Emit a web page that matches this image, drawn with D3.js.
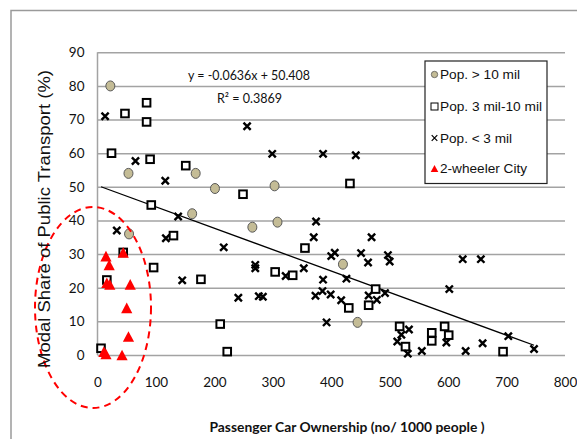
<!DOCTYPE html>
<html>
<head>
<meta charset="utf-8">
<script src="https://cdn.jsdelivr.net/npm/d3@7"></script>
<style>
  body { margin: 0; background: #fff; }
  svg { display: block; }
</style>
</head>
<body>
<svg id="chart" width="577" height="439"></svg>
<script>
// Axis ticks
const xTicks = [0, 100, 200, 300, 400, 500, 600, 700, 800];
const yTicks = [0, 10, 20, 30, 40, 50, 60, 70, 80, 90];

// [car ownership per 1000 people, public transport share %]
const popOver10 = [
  [22, 80], [53, 54], [168, 54], [201, 49.5], [303, 50.3], [162, 42],
  [54, 36], [265, 38], [308, 39.5], [420, 27], [445, 9.7]
];
const pop3to10 = [
  [47, 71.8], [84, 75], [84, 69.3], [24, 60], [90, 58.2], [151, 56.3],
  [249, 47.8], [432, 51], [92, 44.6], [130, 35.5], [44, 30.5], [96, 26],
  [16, 22.3], [177, 22.5], [210, 9.2], [222, 1], [6, 2], [304, 24.7],
  [334, 23.7], [355, 31.8], [430, 14], [464, 14.8], [476, 19.6], [517, 8.5],
  [527, 2.5], [572, 6.6], [572, 4.2], [594, 8.5], [601, 5.9], [694, 1]
];
const popUnder3 = [
  [13, 71], [65, 57.7], [116, 51.8], [256, 68], [299, 59.8], [386, 59.8],
  [442, 59.4], [138, 41.2], [33, 37], [117, 34.7], [216, 32], [270, 26.8],
  [270, 25.8], [145, 22.2], [241, 17], [276, 17.5], [283, 17.3], [374, 39.7],
  [370, 35], [469, 35], [400, 29.4], [406, 30.4], [451, 30.3], [463, 27.5],
  [497, 29.7], [500, 27.8], [353, 25.8], [322, 23.5], [386, 22.4], [426, 22.7],
  [385, 19], [373, 17.6], [399, 18], [417, 16.3], [464, 17.7], [478, 16.4],
  [492, 18.4], [392, 9.7], [533, 7.6], [520, 6], [513, 4], [531, 0.4],
  [555, 1.2], [602, 19.6], [625, 28.5], [656, 28.5], [597, 3.7], [630, 1.2],
  [659, 3.5], [703, 5.6], [747, 1.8]
];
const twoWheeler = [
  [14.5, 29.4], [20, 26.8], [44, 30.5], [16, 21.5], [21, 21], [56, 21],
  [50, 14], [53, 5.5], [11, 1], [14.5, 0.3], [42, 0]
];

// Linear fit
const trendSlope = -0.0636;
const trendIntercept = 50.408;
const trendLabel = "y = -0.0636x + 50.408";
const r2Label = "R\u00b2 = 0.3869";

const legendLabels = ["Pop. > 10 mil", "Pop. 3 mil-10 mil", "Pop. < 3 mil", "2-wheeler City"];
const xTitle = "Passenger Car Ownership (no/ 1000 people )";
const yTitle = "Modal Share of Public Transport (%)";

const svg = d3.select("#chart");
const plot = { left: 97.5, right: 565, top: 52.3, bottom: 355 };

const x = d3.scaleLinear().domain([0, 800]).range([plot.left, plot.right]);
const y = d3.scaleLinear().domain([0, 90]).range([plot.bottom, plot.top]);

// Outer chart frame
svg.append("rect")
  .attr("x", 11).attr("y", 10.5).attr("width", 700).attr("height", 600)
  .attr("fill", "none").attr("stroke", "#9a9a9a").attr("stroke-width", 1.5);

// Horizontal gridlines + y tick labels
const yAxis = svg.append("g")
  .attr("transform", `translate(${plot.left},0)`)
  .call(d3.axisLeft(y).tickValues(yTicks).tickSize(-(plot.right - plot.left)).tickPadding(13));
yAxis.select(".domain").remove();
yAxis.selectAll(".tick line").attr("stroke", "#a3a3a3").attr("stroke-width", 1.5);
yAxis.selectAll(".tick text")
  .attr("font-family", "Lato, 'Open Sans', sans-serif").attr("font-size", 13.5).attr("fill", "#111");

// Vertical axis line
svg.append("line")
  .attr("x1", plot.left).attr("x2", plot.left)
  .attr("y1", plot.top).attr("y2", plot.bottom)
  .attr("stroke", "#a3a3a3").attr("stroke-width", 1.5);

// X tick labels
const xAxis = svg.append("g")
  .attr("transform", `translate(0,${plot.bottom})`)
  .call(d3.axisBottom(x).tickValues(xTicks).tickSize(0).tickPadding(22));
xAxis.select(".domain").remove();
xAxis.selectAll(".tick text")
  .attr("font-family", "Lato, 'Open Sans', sans-serif").attr("font-size", 13.5).attr("fill", "#111");

// Trend line across the data range
const allX = [...popOver10, ...pop3to10, ...popUnder3, ...twoWheeler].map(d => d[0]);
const [xMin, xMax] = d3.extent(allX);
svg.append("line")
  .attr("x1", x(xMin)).attr("y1", y(trendSlope * xMin + trendIntercept))
  .attr("x2", x(xMax)).attr("y2", y(trendSlope * xMax + trendIntercept))
  .attr("stroke", "#000").attr("stroke-width", 1.3);

// Markers
const markers = svg.append("g");

markers.selectAll("ellipse.big").data(popOver10).join("ellipse")
  .attr("cx", d => x(d[0])).attr("cy", d => y(d[1]))
  .attr("rx", 4.5).attr("ry", 5)
  .attr("fill", "#c4bc96").attr("stroke", "#595959").attr("stroke-width", 1);

markers.selectAll("rect.mid").data(pop3to10).join("rect")
  .attr("x", d => x(d[0]) - 3.8).attr("y", d => y(d[1]) - 3.8)
  .attr("width", 7.6).attr("height", 7.6)
  .attr("fill", "#fff").attr("stroke", "#000").attr("stroke-width", 2);

const crossPath = "M-3.6,-3.6L3.6,3.6M-3.6,3.6L3.6,-3.6";
markers.selectAll("path.small").data(popUnder3).join("path")
  .attr("transform", d => `translate(${x(d[0])},${y(d[1])})`)
  .attr("d", crossPath)
  .attr("stroke", "#000").attr("stroke-width", 2.4).attr("fill", "none");

const triPath = "M0,-5.3L5.6,5.3L-5.6,5.3Z";
markers.selectAll("path.tw").data(twoWheeler).join("path")
  .attr("transform", d => `translate(${x(d[0])},${y(d[1])})`)
  .attr("d", triPath)
  .attr("fill", "#ff0000");

// Dashed ellipse around the two-wheeler cities
svg.append("ellipse")
  .attr("cx", 93).attr("cy", 307.5).attr("rx", 58).attr("ry", 100.5)
  .attr("fill", "none").attr("stroke", "#ff0000").attr("stroke-width", 2)
  .attr("stroke-dasharray", "7,5");

// Regression annotation
svg.append("text")
  .attr("x", 188).attr("y", 80)
  .attr("textLength", 122).attr("lengthAdjust", "spacingAndGlyphs")
  .attr("font-family", "Lato, 'Open Sans', sans-serif").attr("font-size", 13.5).attr("fill", "#111")
  .text(trendLabel);
svg.append("text")
  .attr("x", 217).attr("y", 103)
  .attr("textLength", 65).attr("lengthAdjust", "spacingAndGlyphs")
  .attr("font-family", "Lato, 'Open Sans', sans-serif").attr("font-size", 13.5).attr("fill", "#111")
  .text(r2Label);

// Legend
const legend = svg.append("g");
legend.append("rect")
  .attr("x", 425).attr("y", 61).attr("width", 122).attr("height", 122.5)
  .attr("fill", "#fff").attr("stroke", "#222").attr("stroke-width", 1.2);
const rowY = [74.5, 106.5, 138, 168.5];
const textW = [80, 102, 72, 87];
legend.append("circle").attr("cx", 434.5).attr("cy", rowY[0]).attr("r", 3.2)
  .attr("fill", "#c4bc96").attr("stroke", "#595959").attr("stroke-width", 0.8);
legend.append("rect").attr("x", 431).attr("y", rowY[1] - 3.5).attr("width", 7).attr("height", 7)
  .attr("fill", "#fff").attr("stroke", "#000").attr("stroke-width", 1);
legend.append("path").attr("transform", `translate(434.5,${rowY[2]})`)
  .attr("d", "M-2.8,-2.8L2.8,2.8M-2.8,2.8L2.8,-2.8").attr("stroke", "#000").attr("stroke-width", 1.2);
legend.append("path").attr("transform", `translate(434.5,${rowY[3]})`)
  .attr("d", "M0,-3.6L3.8,3.4L-3.8,3.4Z").attr("fill", "#ff0000");
legend.selectAll("text.lg").data(legendLabels).join("text")
  .attr("x", 440).attr("y", (d, i) => rowY[i] + 4.8)
  .attr("textLength", (d, i) => textW[i]).attr("lengthAdjust", "spacingAndGlyphs")
  .attr("font-family", "'Liberation Sans', Arial, sans-serif").attr("font-size", 13.5).attr("fill", "#111")
  .text(d => d);

// Axis titles
svg.append("text")
  .attr("x", 347).attr("y", 432).attr("text-anchor", "middle")
  .attr("textLength", 275).attr("lengthAdjust", "spacingAndGlyphs")
  .attr("font-family", "Lato, 'Open Sans', sans-serif").attr("font-weight", "bold")
  .attr("font-size", 14).attr("fill", "#111")
  .text(xTitle);
svg.append("text")
  .attr("transform", "translate(50,219) rotate(-90)").attr("text-anchor", "middle")
  .attr("textLength", 298).attr("lengthAdjust", "spacingAndGlyphs")
  .attr("font-family", "'Liberation Sans', Arial, sans-serif")
  .attr("font-size", 16).attr("fill", "#111")
  .text(yTitle);
</script>
</body>
</html>
